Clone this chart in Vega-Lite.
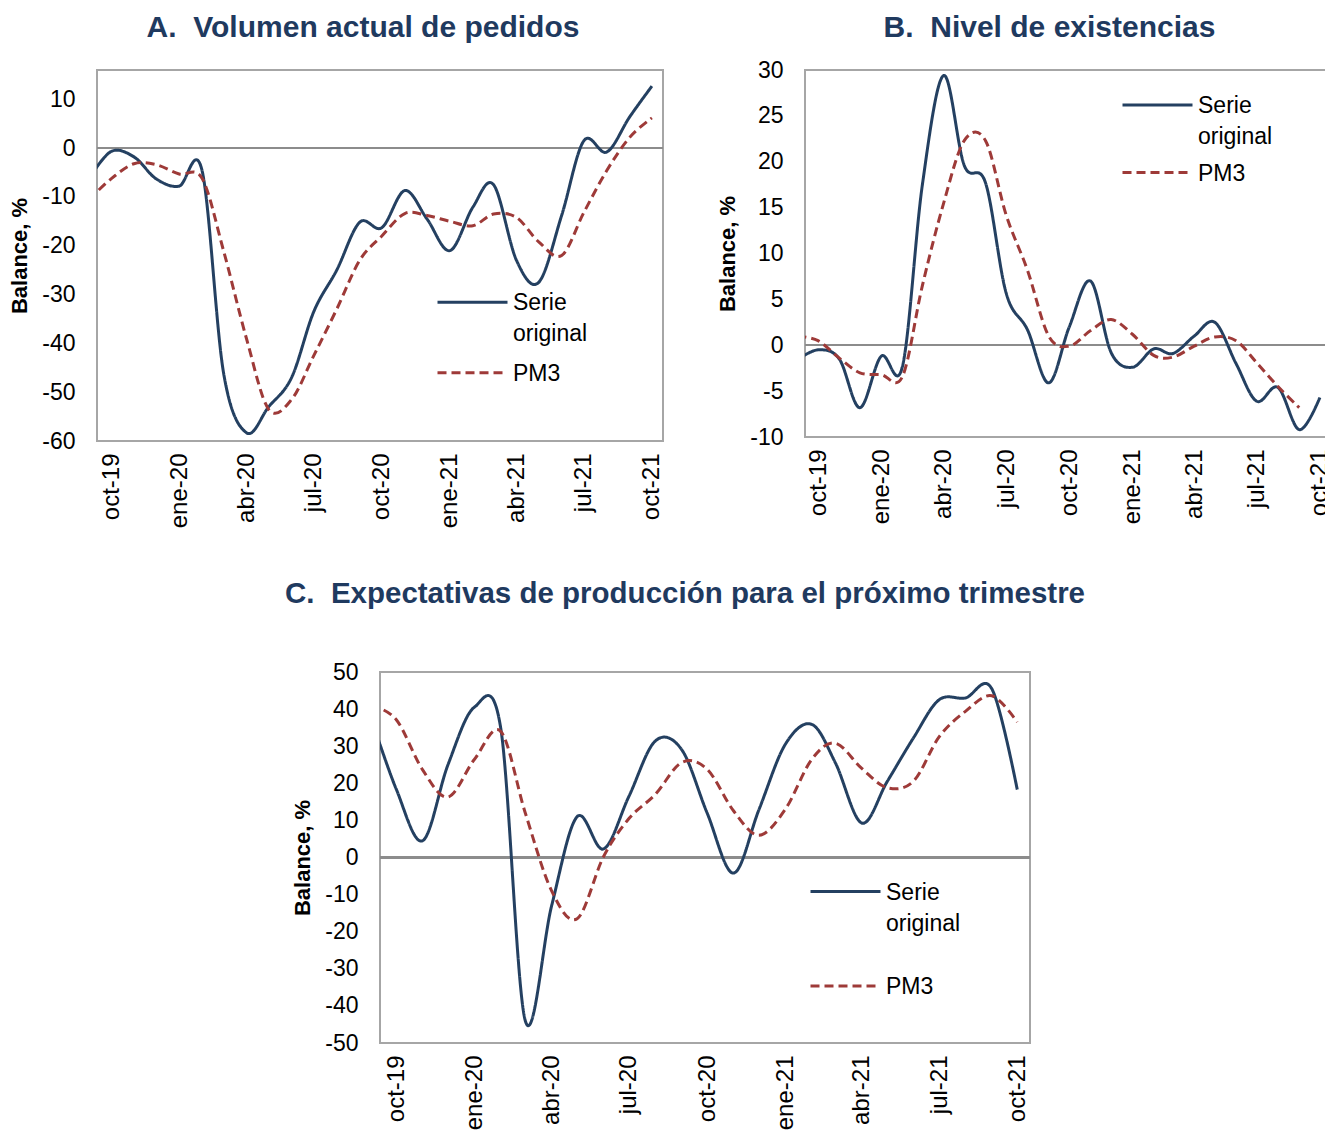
{
  "$schema": "https://vega.github.io/schema/vega-lite/v6.json",
  "padding": {"left": 7, "top": 12, "right": -6, "bottom": 0},
  "datasets": {
    "pedidos": [
      {"fecha": "2019-09-01", "serie": "Serie original", "valor": -6.3},
      {"fecha": "2019-10-01", "serie": "Serie original", "valor": -0.7},
      {"fecha": "2019-11-01", "serie": "Serie original", "valor": -1.8},
      {"fecha": "2019-12-01", "serie": "Serie original", "valor": -6.3},
      {"fecha": "2020-01-01", "serie": "Serie original", "valor": -7.8},
      {"fecha": "2020-02-01", "serie": "Serie original", "valor": -4.6},
      {"fecha": "2020-03-01", "serie": "Serie original", "valor": -46},
      {"fecha": "2020-04-01", "serie": "Serie original", "valor": -58.3},
      {"fecha": "2020-05-01", "serie": "Serie original", "valor": -53},
      {"fecha": "2020-06-01", "serie": "Serie original", "valor": -47},
      {"fecha": "2020-07-01", "serie": "Serie original", "valor": -33.5},
      {"fecha": "2020-08-01", "serie": "Serie original", "valor": -25},
      {"fecha": "2020-09-01", "serie": "Serie original", "valor": -15.2},
      {"fecha": "2020-10-01", "serie": "Serie original", "valor": -16.3},
      {"fecha": "2020-11-01", "serie": "Serie original", "valor": -8.7},
      {"fecha": "2020-12-01", "serie": "Serie original", "valor": -14.5},
      {"fecha": "2021-01-01", "serie": "Serie original", "valor": -21},
      {"fecha": "2021-02-01", "serie": "Serie original", "valor": -12.1},
      {"fecha": "2021-03-01", "serie": "Serie original", "valor": -7.5},
      {"fecha": "2021-04-01", "serie": "Serie original", "valor": -23},
      {"fecha": "2021-05-01", "serie": "Serie original", "valor": -27.5},
      {"fecha": "2021-06-01", "serie": "Serie original", "valor": -13.8},
      {"fecha": "2021-07-01", "serie": "Serie original", "valor": 1.5},
      {"fecha": "2021-08-01", "serie": "Serie original", "valor": -0.8},
      {"fecha": "2021-09-01", "serie": "Serie original", "valor": 6.4},
      {"fecha": "2021-10-01", "serie": "Serie original", "valor": 12.7},
      {"fecha": "2019-09-01", "serie": "PM3", "valor": -10.6},
      {"fecha": "2019-10-01", "serie": "PM3", "valor": -6.3},
      {"fecha": "2019-11-01", "serie": "PM3", "valor": -3.2},
      {"fecha": "2019-12-01", "serie": "PM3", "valor": -3.4},
      {"fecha": "2020-01-01", "serie": "PM3", "valor": -5.3},
      {"fecha": "2020-02-01", "serie": "PM3", "valor": -6.2},
      {"fecha": "2020-03-01", "serie": "PM3", "valor": -21},
      {"fecha": "2020-04-01", "serie": "PM3", "valor": -39},
      {"fecha": "2020-05-01", "serie": "PM3", "valor": -53.5},
      {"fecha": "2020-06-01", "serie": "PM3", "valor": -51.5},
      {"fecha": "2020-07-01", "serie": "PM3", "valor": -42.5},
      {"fecha": "2020-08-01", "serie": "PM3", "valor": -33},
      {"fecha": "2020-09-01", "serie": "PM3", "valor": -23},
      {"fecha": "2020-10-01", "serie": "PM3", "valor": -18},
      {"fecha": "2020-11-01", "serie": "PM3", "valor": -13.4},
      {"fecha": "2020-12-01", "serie": "PM3", "valor": -13.8},
      {"fecha": "2021-01-01", "serie": "PM3", "valor": -15},
      {"fecha": "2021-02-01", "serie": "PM3", "valor": -15.9},
      {"fecha": "2021-03-01", "serie": "PM3", "valor": -13.5},
      {"fecha": "2021-04-01", "serie": "PM3", "valor": -14.2},
      {"fecha": "2021-05-01", "serie": "PM3", "valor": -19.2},
      {"fecha": "2021-06-01", "serie": "PM3", "valor": -22},
      {"fecha": "2021-07-01", "serie": "PM3", "valor": -13.2},
      {"fecha": "2021-08-01", "serie": "PM3", "valor": -4.6},
      {"fecha": "2021-09-01", "serie": "PM3", "valor": 2.2},
      {"fecha": "2021-10-01", "serie": "PM3", "valor": 6.2}
    ],
    "existencias": [
      {"fecha": "2019-09-01", "serie": "Serie original", "valor": -1.6},
      {"fecha": "2019-10-01", "serie": "Serie original", "valor": -0.5},
      {"fecha": "2019-11-01", "serie": "Serie original", "valor": -1.5},
      {"fecha": "2019-12-01", "serie": "Serie original", "valor": -6.8},
      {"fecha": "2020-01-01", "serie": "Serie original", "valor": -1.2},
      {"fecha": "2020-02-01", "serie": "Serie original", "valor": -2.3},
      {"fecha": "2020-03-01", "serie": "Serie original", "valor": 17.5},
      {"fecha": "2020-04-01", "serie": "Serie original", "valor": 29.4},
      {"fecha": "2020-05-01", "serie": "Serie original", "valor": 19.6},
      {"fecha": "2020-06-01", "serie": "Serie original", "valor": 17.7},
      {"fecha": "2020-07-01", "serie": "Serie original", "valor": 5.7},
      {"fecha": "2020-08-01", "serie": "Serie original", "valor": 1.7},
      {"fecha": "2020-09-01", "serie": "Serie original", "valor": -4.1},
      {"fecha": "2020-10-01", "serie": "Serie original", "valor": 2.0},
      {"fecha": "2020-11-01", "serie": "Serie original", "valor": 7.0},
      {"fecha": "2020-12-01", "serie": "Serie original", "valor": -0.8},
      {"fecha": "2021-01-01", "serie": "Serie original", "valor": -2.4},
      {"fecha": "2021-02-01", "serie": "Serie original", "valor": -0.4},
      {"fecha": "2021-03-01", "serie": "Serie original", "valor": -0.9},
      {"fecha": "2021-04-01", "serie": "Serie original", "valor": 1.0},
      {"fecha": "2021-05-01", "serie": "Serie original", "valor": 2.5},
      {"fecha": "2021-06-01", "serie": "Serie original", "valor": -2.0},
      {"fecha": "2021-07-01", "serie": "Serie original", "valor": -6.1},
      {"fecha": "2021-08-01", "serie": "Serie original", "valor": -4.6},
      {"fecha": "2021-09-01", "serie": "Serie original", "valor": -9.2},
      {"fecha": "2021-10-01", "serie": "Serie original", "valor": -5.7},
      {"fecha": "2019-09-01", "serie": "PM3", "valor": 1.0},
      {"fecha": "2019-10-01", "serie": "PM3", "valor": 0.5},
      {"fecha": "2019-11-01", "serie": "PM3", "valor": -1.4},
      {"fecha": "2019-12-01", "serie": "PM3", "valor": -3.0},
      {"fecha": "2020-01-01", "serie": "PM3", "valor": -3.2},
      {"fecha": "2020-02-01", "serie": "PM3", "valor": -3.4},
      {"fecha": "2020-03-01", "serie": "PM3", "valor": 6.5},
      {"fecha": "2020-04-01", "serie": "PM3", "valor": 15.5},
      {"fecha": "2020-05-01", "serie": "PM3", "valor": 22.3},
      {"fecha": "2020-06-01", "serie": "PM3", "valor": 22.3},
      {"fecha": "2020-07-01", "serie": "PM3", "valor": 14.2},
      {"fecha": "2020-08-01", "serie": "PM3", "valor": 8.2},
      {"fecha": "2020-09-01", "serie": "PM3", "valor": 1.0},
      {"fecha": "2020-10-01", "serie": "PM3", "valor": -0.1},
      {"fecha": "2020-11-01", "serie": "PM3", "valor": 1.6},
      {"fecha": "2020-12-01", "serie": "PM3", "valor": 2.8},
      {"fecha": "2021-01-01", "serie": "PM3", "valor": 1.2},
      {"fecha": "2021-02-01", "serie": "PM3", "valor": -1.1},
      {"fecha": "2021-03-01", "serie": "PM3", "valor": -1.3},
      {"fecha": "2021-04-01", "serie": "PM3", "valor": -0.1},
      {"fecha": "2021-05-01", "serie": "PM3", "valor": 0.9},
      {"fecha": "2021-06-01", "serie": "PM3", "valor": 0.5},
      {"fecha": "2021-07-01", "serie": "PM3", "valor": -1.9},
      {"fecha": "2021-08-01", "serie": "PM3", "valor": -4.5},
      {"fecha": "2021-09-01", "serie": "PM3", "valor": -6.8}
    ],
    "expectativas": [
      {"fecha": "2019-09-01", "serie": "Serie original", "valor": 38},
      {"fecha": "2019-10-01", "serie": "Serie original", "valor": 18.5},
      {"fecha": "2019-11-01", "serie": "Serie original", "valor": 4.5},
      {"fecha": "2019-12-01", "serie": "Serie original", "valor": 25},
      {"fecha": "2020-01-01", "serie": "Serie original", "valor": 40.5},
      {"fecha": "2020-02-01", "serie": "Serie original", "valor": 35},
      {"fecha": "2020-03-01", "serie": "Serie original", "valor": -44},
      {"fecha": "2020-04-01", "serie": "Serie original", "valor": -13},
      {"fecha": "2020-05-01", "serie": "Serie original", "valor": 11},
      {"fecha": "2020-06-01", "serie": "Serie original", "valor": 2.3},
      {"fecha": "2020-07-01", "serie": "Serie original", "valor": 16.5},
      {"fecha": "2020-08-01", "serie": "Serie original", "valor": 31.4},
      {"fecha": "2020-09-01", "serie": "Serie original", "valor": 29.1},
      {"fecha": "2020-10-01", "serie": "Serie original", "valor": 12},
      {"fecha": "2020-11-01", "serie": "Serie original", "valor": -4.2},
      {"fecha": "2020-12-01", "serie": "Serie original", "valor": 12.9},
      {"fecha": "2021-01-01", "serie": "Serie original", "valor": 30.5},
      {"fecha": "2021-02-01", "serie": "Serie original", "valor": 35.9},
      {"fecha": "2021-03-01", "serie": "Serie original", "valor": 25.5},
      {"fecha": "2021-04-01", "serie": "Serie original", "valor": 9.3},
      {"fecha": "2021-05-01", "serie": "Serie original", "valor": 20.5},
      {"fecha": "2021-06-01", "serie": "Serie original", "valor": 32.3},
      {"fecha": "2021-07-01", "serie": "Serie original", "valor": 42.5},
      {"fecha": "2021-08-01", "serie": "Serie original", "valor": 43},
      {"fecha": "2021-09-01", "serie": "Serie original", "valor": 45.5},
      {"fecha": "2021-10-01", "serie": "Serie original", "valor": 18.3},
      {"fecha": "2019-09-01", "serie": "PM3", "valor": 41},
      {"fecha": "2019-10-01", "serie": "PM3", "valor": 37.2},
      {"fecha": "2019-11-01", "serie": "PM3", "valor": 23.7},
      {"fecha": "2019-12-01", "serie": "PM3", "valor": 16.3},
      {"fecha": "2020-01-01", "serie": "PM3", "valor": 26.4},
      {"fecha": "2020-02-01", "serie": "PM3", "valor": 34},
      {"fecha": "2020-03-01", "serie": "PM3", "valor": 12},
      {"fecha": "2020-04-01", "serie": "PM3", "valor": -9},
      {"fecha": "2020-05-01", "serie": "PM3", "valor": -16.5},
      {"fecha": "2020-06-01", "serie": "PM3", "valor": 0.2},
      {"fecha": "2020-07-01", "serie": "PM3", "valor": 10.5},
      {"fecha": "2020-08-01", "serie": "PM3", "valor": 17},
      {"fecha": "2020-09-01", "serie": "PM3", "valor": 25.6},
      {"fecha": "2020-10-01", "serie": "PM3", "valor": 23.8},
      {"fecha": "2020-11-01", "serie": "PM3", "valor": 12.6},
      {"fecha": "2020-12-01", "serie": "PM3", "valor": 6},
      {"fecha": "2021-01-01", "serie": "PM3", "valor": 13},
      {"fecha": "2021-02-01", "serie": "PM3", "valor": 26.4},
      {"fecha": "2021-03-01", "serie": "PM3", "valor": 30.8},
      {"fecha": "2021-04-01", "serie": "PM3", "valor": 24},
      {"fecha": "2021-05-01", "serie": "PM3", "valor": 18.8},
      {"fecha": "2021-06-01", "serie": "PM3", "valor": 20.6},
      {"fecha": "2021-07-01", "serie": "PM3", "valor": 32.5},
      {"fecha": "2021-08-01", "serie": "PM3", "valor": 39.4},
      {"fecha": "2021-09-01", "serie": "PM3", "valor": 43.6},
      {"fecha": "2021-10-01", "serie": "PM3", "valor": 36.5}
    ]
  },
  "vconcat": [
    {
      "hconcat": [
        {
          "width": 566,
          "height": 371,
          "title": {"text": "A.\u00a0 Volumen actual de pedidos", "anchor": "middle", "frame": "group", "dx": -17, "offset": 27, "fontSize": 30},
          "data": {"name": "pedidos"},
          "layer": [
            {
              "mark": {"type": "rule", "color": "#8C8C8C", "strokeWidth": 1.5},
              "encoding": {"y": {"datum": 0, "type": "quantitative"}}
            },
            {
              "mark": {"type": "line", "interpolate": "cardinal", "tension": 0, "strokeWidth": 3, "clip": true},
              "encoding": {
                "x": {
                  "field": "fecha", "type": "temporal",
                  "scale": {"type": "utc", "domain": [{"year": 2019, "month": 9, "date": 12, "utc": true}, {"year": 2021, "month": 10, "date": 16, "utc": true}]},
                  "axis": {
                    "title": null, "labelAngle": 270, "labelFontSize": 24, "labelPadding": 12, "labelFlush": false, "labelOverlap": false, "labelBound": false, "tickCount": 20,
                    "values": [
                      {"year": 2019, "month": 10, "date": 1, "utc": true},
                      {"year": 2020, "month": 1, "date": 1, "utc": true},
                      {"year": 2020, "month": 4, "date": 1, "utc": true},
                      {"year": 2020, "month": 7, "date": 1, "utc": true},
                      {"year": 2020, "month": 10, "date": 1, "utc": true},
                      {"year": 2021, "month": 1, "date": 1, "utc": true},
                      {"year": 2021, "month": 4, "date": 1, "utc": true},
                      {"year": 2021, "month": 7, "date": 1, "utc": true},
                      {"year": 2021, "month": 10, "date": 1, "utc": true}
                    ],
                    "labelExpr": "['ene','feb','mar','abr','may','jun','jul','ago','sep','oct','nov','dic'][utcmonth(datum.value)] + '-' + utcFormat(datum.value, '%y')"
                  }
                },
                "y": {
                  "field": "valor", "type": "quantitative",
                  "scale": {"domain": [-60, 16], "nice": false},
                  "axis": {"title": "Balance, %", "values": [-60, -50, -40, -30, -20, -10, 0, 10], "tickCount": 20, "labelOverlap": false, "labelExpr": "replace(datum.label, '\u2212', '-')", "labelFontSize": 23, "labelPadding": 22, "titleFontSize": 22, "titleFontWeight": "bold", "titlePadding": 10}
                },
                "color": {
                  "field": "serie", "type": "nominal",
                  "scale": {"domain": ["Serie original", "PM3"], "range": ["#244061", "#9E3A38"]},
                  "legend": {"orient": "none", "legendX": 356.5, "legendY": 213.2, "title": null, "symbolType": "M-2,0H2", "symbolSize": 1225, "symbolStrokeWidth": 3, "labelFontSize": 23, "labelOffset": 21.5, "rowPadding": 7.5, "labelBaseline": "alphabetic", "padding": 0, "labelLimit": 300, "encoding": {"labels": {"dy": {"value": 8}, "lineHeight": {"value": 31}}}, "labelExpr": "datum.label == 'Serie original' ? ['Serie', 'original'] : datum.label"}
                },
                "strokeDash": {
                  "field": "serie", "type": "nominal",
                  "scale": {"domain": ["Serie original", "PM3"], "range": [[1, 0], [9, 5]]},
                  "legend": {"orient": "none", "legendX": 356.5, "legendY": 213.2, "title": null, "symbolType": "M-2,0H2", "symbolSize": 1225, "symbolStrokeWidth": 3, "labelFontSize": 23, "labelOffset": 21.5, "rowPadding": 7.5, "labelBaseline": "alphabetic", "padding": 0, "labelLimit": 300, "encoding": {"labels": {"dy": {"value": 8}, "lineHeight": {"value": 31}}}, "labelExpr": "datum.label == 'Serie original' ? ['Serie', 'original'] : datum.label"}
                }
              }
            }
          ]
        },
        {
          "width": 521,
          "height": 367,
          "title": {"text": "B.\u00a0 Nivel de existencias", "anchor": "middle", "frame": "group", "dx": -16, "offset": 16, "fontSize": 30},
          "data": {"name": "existencias"},
          "layer": [
            {
              "mark": {"type": "rule", "color": "#8C8C8C", "strokeWidth": 1.5},
              "encoding": {"y": {"datum": 0, "type": "quantitative"}}
            },
            {
              "mark": {"type": "line", "interpolate": "cardinal", "tension": 0, "strokeWidth": 3, "clip": true},
              "encoding": {
                "x": {
                  "field": "fecha", "type": "temporal",
                  "scale": {"type": "utc", "domain": [{"year": 2019, "month": 9, "date": 12, "utc": true}, {"year": 2021, "month": 10, "date": 10, "utc": true}]},
                  "axis": {
                    "title": null, "labelAngle": 270, "labelFontSize": 24, "labelPadding": 12, "labelFlush": false, "labelOverlap": false, "labelBound": false, "tickCount": 20,
                    "values": [
                      {"year": 2019, "month": 10, "date": 1, "utc": true},
                      {"year": 2020, "month": 1, "date": 1, "utc": true},
                      {"year": 2020, "month": 4, "date": 1, "utc": true},
                      {"year": 2020, "month": 7, "date": 1, "utc": true},
                      {"year": 2020, "month": 10, "date": 1, "utc": true},
                      {"year": 2021, "month": 1, "date": 1, "utc": true},
                      {"year": 2021, "month": 4, "date": 1, "utc": true},
                      {"year": 2021, "month": 7, "date": 1, "utc": true},
                      {"year": 2021, "month": 10, "date": 1, "utc": true}
                    ],
                    "labelExpr": "['ene','feb','mar','abr','may','jun','jul','ago','sep','oct','nov','dic'][utcmonth(datum.value)] + '-' + utcFormat(datum.value, '%y')"
                  }
                },
                "y": {
                  "field": "valor", "type": "quantitative",
                  "scale": {"domain": [-10, 30], "nice": false},
                  "axis": {"title": "Balance, %", "values": [-10, -5, 0, 5, 10, 15, 20, 25, 30], "tickCount": 20, "labelOverlap": false, "labelExpr": "replace(datum.label, '\u2212', '-')", "labelFontSize": 23, "labelPadding": 22, "titleFontSize": 22, "titleFontWeight": "bold", "titlePadding": 10}
                },
                "color": {
                  "field": "serie", "type": "nominal",
                  "scale": {"domain": ["Serie original", "PM3"], "range": ["#244061", "#9E3A38"]},
                  "legend": {"orient": "none", "legendX": 333.5, "legendY": 16, "title": null, "symbolType": "M-2,0H2", "symbolSize": 1225, "symbolStrokeWidth": 3, "labelFontSize": 23, "labelOffset": 21.5, "rowPadding": 4.5, "labelBaseline": "alphabetic", "padding": 0, "labelLimit": 300, "encoding": {"labels": {"dy": {"value": 8}, "lineHeight": {"value": 31}}}, "labelExpr": "datum.label == 'Serie original' ? ['Serie', 'original'] : datum.label"}
                },
                "strokeDash": {
                  "field": "serie", "type": "nominal",
                  "scale": {"domain": ["Serie original", "PM3"], "range": [[1, 0], [9, 5]]},
                  "legend": {"orient": "none", "legendX": 333.5, "legendY": 16, "title": null, "symbolType": "M-2,0H2", "symbolSize": 1225, "symbolStrokeWidth": 3, "labelFontSize": 23, "labelOffset": 21.5, "rowPadding": 4.5, "labelBaseline": "alphabetic", "padding": 0, "labelLimit": 300, "encoding": {"labels": {"dy": {"value": 8}, "lineHeight": {"value": 31}}}, "labelExpr": "datum.label == 'Serie original' ? ['Serie', 'original'] : datum.label"}
                }
              }
            }
          ]
        }
      ],
      "spacing": 50,
      "resolve": {"scale": {"color": "independent", "strokeDash": "independent"}, "legend": {"color": "independent", "strokeDash": "independent"}}
    },
    {
      "hconcat": [
        {
          "width": 186,
          "height": 10,
          "data": {"values": []},
          "mark": {"type": "point"},
          "view": {"stroke": null}
        },
        {
          "width": 650,
          "height": 371,
          "title": {"text": "C.\u00a0 Expectativas de producción para el próximo trimestre", "anchor": "middle", "frame": "group", "dx": -20, "offset": 52, "fontSize": 29.5},
          "data": {"name": "expectativas"},
          "layer": [
            {
              "mark": {"type": "rule", "color": "#8C8C8C", "strokeWidth": 1.5},
              "encoding": {"y": {"datum": 0, "type": "quantitative"}}
            },
            {
              "mark": {"type": "line", "interpolate": "cardinal", "tension": 0, "strokeWidth": 3, "clip": true},
              "encoding": {
                "x": {
                  "field": "fecha", "type": "temporal",
                  "scale": {"type": "utc", "domain": [{"year": 2019, "month": 9, "date": 12, "utc": true}, {"year": 2021, "month": 10, "date": 16, "utc": true}]},
                  "axis": {
                    "title": null, "labelAngle": 270, "labelFontSize": 24, "labelPadding": 12, "labelFlush": false, "labelOverlap": false, "labelBound": false, "tickCount": 20,
                    "values": [
                      {"year": 2019, "month": 10, "date": 1, "utc": true},
                      {"year": 2020, "month": 1, "date": 1, "utc": true},
                      {"year": 2020, "month": 4, "date": 1, "utc": true},
                      {"year": 2020, "month": 7, "date": 1, "utc": true},
                      {"year": 2020, "month": 10, "date": 1, "utc": true},
                      {"year": 2021, "month": 1, "date": 1, "utc": true},
                      {"year": 2021, "month": 4, "date": 1, "utc": true},
                      {"year": 2021, "month": 7, "date": 1, "utc": true},
                      {"year": 2021, "month": 10, "date": 1, "utc": true}
                    ],
                    "labelExpr": "['ene','feb','mar','abr','may','jun','jul','ago','sep','oct','nov','dic'][utcmonth(datum.value)] + '-' + utcFormat(datum.value, '%y')"
                  }
                },
                "y": {
                  "field": "valor", "type": "quantitative",
                  "scale": {"domain": [-50, 50], "nice": false},
                  "axis": {"title": "Balance, %", "values": [-50, -40, -30, -20, -10, 0, 10, 20, 30, 40, 50], "tickCount": 20, "labelOverlap": false, "labelExpr": "replace(datum.label, '\u2212', '-')", "labelFontSize": 23, "labelPadding": 22, "titleFontSize": 22, "titleFontWeight": "bold", "titlePadding": 10}
                },
                "color": {
                  "field": "serie", "type": "nominal",
                  "scale": {"domain": ["Serie original", "PM3"], "range": ["#244061", "#9E3A38"]},
                  "legend": {"orient": "none", "legendX": 446.5, "legendY": 200.5, "title": null, "symbolType": "M-2,0H2", "symbolSize": 1225, "symbolStrokeWidth": 3, "labelFontSize": 23, "labelOffset": 21.5, "rowPadding": 31.5, "labelBaseline": "alphabetic", "padding": 0, "labelLimit": 300, "encoding": {"labels": {"dy": {"value": 8}, "lineHeight": {"value": 31}}}, "labelExpr": "datum.label == 'Serie original' ? ['Serie', 'original'] : datum.label"}
                },
                "strokeDash": {
                  "field": "serie", "type": "nominal",
                  "scale": {"domain": ["Serie original", "PM3"], "range": [[1, 0], [9, 5]]},
                  "legend": {"orient": "none", "legendX": 446.5, "legendY": 200.5, "title": null, "symbolType": "M-2,0H2", "symbolSize": 1225, "symbolStrokeWidth": 3, "labelFontSize": 23, "labelOffset": 21.5, "rowPadding": 31.5, "labelBaseline": "alphabetic", "padding": 0, "labelLimit": 300, "encoding": {"labels": {"dy": {"value": 8}, "lineHeight": {"value": 31}}}, "labelExpr": "datum.label == 'Serie original' ? ['Serie', 'original'] : datum.label"}
                }
              }
            }
          ]
        }
      ],
      "spacing": 0,
      "align": "none",
      "resolve": {"scale": {"color": "independent", "strokeDash": "independent"}, "legend": {"color": "independent", "strokeDash": "independent"}}
    }
  ],
  "spacing": 48,
  "resolve": {"scale": {"color": "independent", "strokeDash": "independent"}, "legend": {"color": "independent", "strokeDash": "independent"}},
  "config": {
    "font": "Liberation Sans",
    "background": "#ffffff",
    "view": {"stroke": "#A6A6A6", "strokeWidth": 2},
    "axis": {"grid": false, "ticks": false, "domain": false, "labelColor": "#000000", "titleColor": "#000000", "labelFont": "Liberation Sans", "titleFont": "Liberation Sans"},
    "axisY": {"labelOverlap": false},
    "legend": {"labelFont": "Liberation Sans", "labelColor": "#000000"},
    "title": {"font": "Liberation Sans", "fontSize": 29, "fontWeight": "bold", "color": "#1F3A5F"}
  }
}
